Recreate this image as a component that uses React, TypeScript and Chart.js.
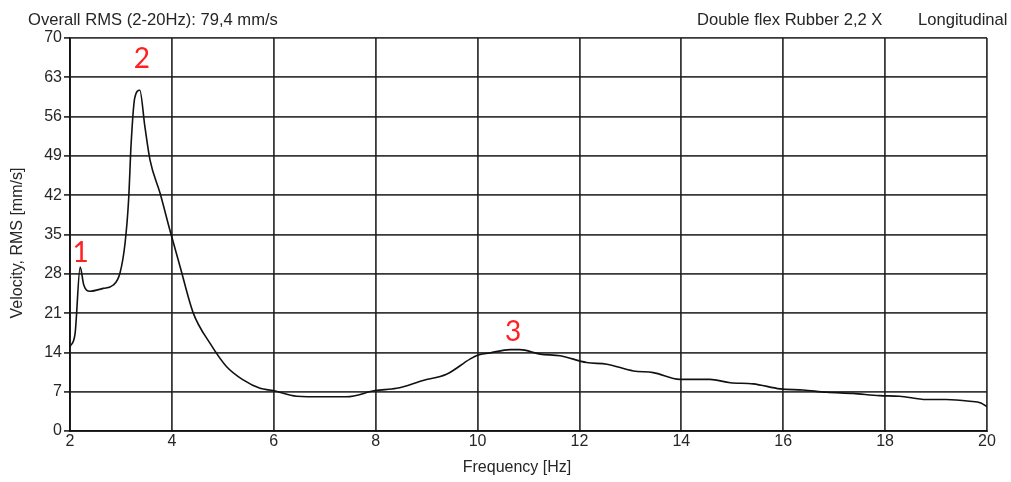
import React, { useEffect, useRef } from "react";
import { Chart, registerables } from "chart.js";

Chart.register(...registerables);

// Frequency response of the coupling, velocity RMS vs frequency
const frequencyHz = [
  2.0, 2.1, 2.2, 2.27, 2.39, 2.65, 2.85, 2.98, 3.08, 3.15, 3.2, 3.27, 3.37, 3.47,
  3.57, 3.77, 3.96, 4.16, 4.42, 4.75, 5.07, 5.4, 5.73, 5.99, 6.45, 6.97, 7.43,
  7.99, 8.41, 8.93, 9.39, 9.85, 10.0, 10.24, 10.64, 10.83, 11.23, 11.62, 12.14,
  12.54, 13.06, 13.45, 13.97, 14.56, 14.96, 15.41, 15.94, 16.39, 16.85, 17.37,
  17.89, 18.28, 18.81, 19.2, 19.66, 19.88, 20.0,
];
const velocityRms = [
  15.0, 17.4, 29.2, 26.0, 24.9, 25.4, 26.0, 28.1, 33.4, 41.1, 51.2, 59.3, 60.7, 54.2,
  48.3, 42.3, 35.8, 29.3, 21.0, 15.6, 11.5, 9.1, 7.6, 7.2, 6.2, 6.1, 6.1,
  7.2, 7.6, 9.0, 10.1, 12.8, 13.5, 13.9, 14.5, 14.5, 13.7, 13.4, 12.2,
  11.9, 10.7, 10.4, 9.2, 9.2, 8.6, 8.4, 7.5, 7.3, 6.9, 6.7,
  6.3, 6.2, 5.6, 5.6, 5.3, 5.0, 4.3,
];

// Resonance markers: label, frequency, value where the label sits
const peakLabels = ["1", "2", "3"];
const peakFreq = [2.21, 3.41, 10.7];
const peakLabelValue = [31.7, 66.2, 17.7];

const headerLeft = "Overall RMS (2-20Hz): 79,4 mm/s";
const headerMid = "Double flex Rubber 2,2 X";
const headerRight = "Longitudinal";
const xTitle = "Frequency [Hz]";
const yTitle = "Velocity, RMS [mm/s]";

const FONT = "'Liberation Sans', Arial, sans-serif";
const TEXT = "#262626";
const GRID = "rgba(30,30,30,0.88)";

const textPlugin = {
  id: "textOverlay",
  afterDraw(chart: any) {
    const { ctx, scales } = chart;
    const x = scales.x;
    const y = scales.y;
    ctx.save();
    ctx.fillStyle = TEXT;
    ctx.font = `16.6px ${FONT}`;
    ctx.textBaseline = "alphabetic";
    ctx.textAlign = "left";
    ctx.fillText(headerLeft, 28, 24.5);
    ctx.fillText(headerMid, 697, 24.5);
    ctx.fillText(headerRight, 918, 24.5);

    ctx.font = `16px ${FONT}`;
    ctx.textAlign = "center";
    ctx.textBaseline = "middle";
    ctx.fillText(xTitle, 517, 468);
    ctx.save();
    ctx.translate(18, 243);
    ctx.rotate(-Math.PI / 2);
    ctx.fillText(yTitle, 0, 0);
    ctx.restore();

    ctx.fillStyle = "#ff2020";
    ctx.font = `28px Lato, 'Open Sans', sans-serif`;
    peakLabels.forEach((t, i) => {
      ctx.fillText(t, x.getPixelForValue(peakFreq[i]), y.getPixelForValue(peakLabelValue[i]));
    });
    ctx.restore();
  },
};

export default function App() {
  const ref = useRef<HTMLCanvasElement | null>(null);

  useEffect(() => {
    if (!ref.current) return;
    const points = frequencyHz.map((f, i) => ({ x: f, y: velocityRms[i] }));
    const chart = new Chart(ref.current, {
      type: "scatter",
      data: {
        datasets: [
          {
            data: points,
            showLine: true,
            borderColor: "#111",
            borderWidth: 1.6,
            pointRadius: 0,
            cubicInterpolationMode: "monotone",
            fill: false,
          },
        ],
      },
      options: {
        animation: false,
        responsive: false,
        layout: { padding: { top: 38, right: 24, left: 0, bottom: 0 } },
        plugins: { legend: { display: false }, tooltip: { enabled: false } },
        scales: {
          x: {
            type: "linear",
            min: 2,
            max: 20,
            ticks: { stepSize: 2, color: TEXT, font: { family: FONT, size: 16 }, padding: 1 },
            grid: { color: GRID, lineWidth: 1.8, tickLength: 0 },
            border: { color: "#111", width: 1.8 },
            afterFit: (s: any) => {
              s.height = 51;
            },
          },
          y: {
            min: 0,
            max: 70,
            ticks: { stepSize: 7, color: TEXT, font: { family: FONT, size: 16 }, padding: 2 },
            grid: { color: GRID, lineWidth: 1.8, tickLength: 6 },
            border: { color: "#111", width: 1.8 },
            afterFit: (s: any) => {
              s.width = 70;
            },
          },
        },
      },
      plugins: [textPlugin],
    });
    return () => chart.destroy();
  }, []);

  return (
    <div style={{ position: "fixed", left: 0, top: 0, width: 1011, height: 482, background: "#fff" }}>
      <canvas ref={ref} width={1011} height={482} />
    </div>
  );
}
